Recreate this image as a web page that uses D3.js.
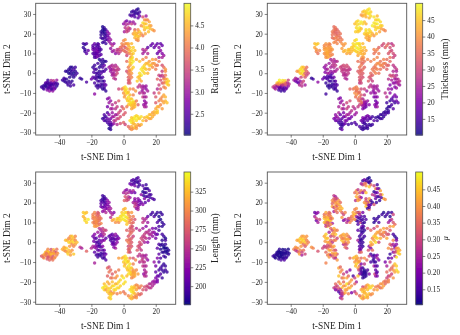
<!DOCTYPE html>
<html><head><meta charset="utf-8">
<script src="https://cdn.jsdelivr.net/npm/d3@7"></script>
<style>html,body{margin:0;padding:0;background:#fff}svg{display:block}text{font-family:"Liberation Serif","Times New Roman",serif;fill:#222}</style>
</head><body><svg id="c" width="460" height="335"></svg>
<script>
// each row: t-SNE 1, t-SNE 2, radius, thickness, length, mu
const farLeft=[[-51,-7,2.3,28,270,.14],[-50,-6.5,2.2,30,300,.13],[-49.5,-8,2.4,26,310,.12],[-49,-6,2.3,33,320,.13],[-48.5,-5,2.5,45,325,.12],[-48,-7,2.2,24,290,.11],[-47.5,-4.5,2.6,48,315,.12],[-47.5,-8.5,2.8,15,275,.13],[-47,-6,2.3,32,295,.11],[-47,-3.5,2.3,49,300,.13],[-46.5,-7.5,2.5,18,285,.11],[-46,-9,2.9,13,280,.15],[-46,-5,2.2,47,310,.11],[-45.5,-6.5,2.7,25,320,.12],[-45,-8,2.4,14,300,.12],[-45,-3.7,3.2,48,270,.11],[-44.5,-5.5,2.3,40,290,.12],[-44,-7,2.6,16,265,.12],[-44,-9,2.9,14,290,.16],[-43.5,-3.8,3.3,46,320,.12],[-43,-6,2.5,28,300,.11],[-43,-4.8,2.9,38,285,.13],[-42.5,-7.5,2.4,20,310,.13],[-42,-5,2.3,26,275,.12],[-41.5,-6.5,2.2,22,295,.13],[-41.5,-3.5,3.0,30,290,.11],[-41,-5.5,2.3,27,305,.12],[-50,-7.5,2.3,24,285,.12],[-48.5,-6.5,2.2,22,300,.12],[-47,-5,2.4,44,330,.11],[-46,-6,2.3,30,305,.11],[-45,-5,2.6,42,300,.12],[-44.5,-8,2.3,15,280,.13],[-43.5,-5.5,2.4,33,315,.12],[-46,-7,2.5,18,295,.11],[-45,-6,2.3,27,325,.12],[-48,-5.5,2.3,38,290,.12],[-43,-8,2.7,17,300,.14],[-47,-7.5,2.4,16,270,.12]];
const midLeft=[[-38,-3.5,2.3,24,320,.38],[-37,-4,2.2,20,310,.3],[-36.5,-3,2.4,22,325,.35],[-36,-4.5,2.2,18,300,.27],[-35.5,-3,2.2,21,330,.4],[-35,-5,2.3,17,320,.36],[-34.5,-6,2.3,26,335,.42],[-33.5,-2,2.2,30,310,.4],[-35,1,2.1,44,315,.45],[-34,2,2.2,47,300,.46],[-33,0,2.2,49,325,.44],[-33,3,2.1,46,310,.4],[-32,1,2.3,48,335,.47],[-32,-1,2.2,42,300,.35],[-31,2,2.4,36,320,.42],[-31,0,2.1,33,335,.45],[-30,-1,2.3,30,310,.4],[-30,1,2.2,34,300,.38],[-32,-4,2.2,30,305,.36],[-31,-6,2.4,24,330,.3],[-33,-6.5,2.3,27,310,.25],[-27,-2.5,2.3,12,255,.4],[-26,-3,2.2,14,240,.38],[-23,-4.5,2.4,22,280,.32],[-37,-2.5,2.3,26,315,.4],[-34,-4,2.2,22,325,.38],[-33,-5,2.3,28,315,.3],[-36,1,2.2,40,325,.42],[-34,0,2.1,45,335,.43],[-33,1.5,2.2,48,315,.46],[-30,3,2.3,35,300,.4],[-29,0,2.3,30,325,.37],[-31,-2,2.2,32,300,.33],[-32,3,2.2,44,330,.42]];
const lowerMid=[[-19,3,2.2,22,215,.42],[-18,4,2.3,24,225,.46],[-17,2,2.3,26,200,.44],[-18.5,.5,2.4,21,215,.4],[-16,0,2.3,24,190,.4],[-15,1,2.2,23,205,.35],[-14,0,2.5,20,220,.28],[-16,-2,2.4,14,195,.3],[-15,-2,2.1,16,205,.35],[-17,-3,2.3,15,225,.36],[-14,-2.5,2.2,14,195,.38],[-15,-4,2.3,13,220,.42],[-19,-2,2.5,16,245,.28],[-20,-3,2.6,18,245,.3],[-18,-5,2.4,13,205,.35],[-17,-6.5,2.3,12,195,.37],[-16,-6,2.2,13,200,.4],[-15,-6.5,2.3,14,185,.25],[-14,-5.5,2.4,12,190,.42],[-13,-6,2.2,15,195,.38],[-12,-7,2.4,14,205,.4],[-11,-6,2.6,16,215,.33],[-12,-8,2.3,15,190,.25],[-11,-9,2.2,13,200,.4],[-18,-10.5,2.9,14,240,.38],[-12,-4,2.5,17,215,.3],[-13,-2,2.4,18,225,.42],[-15,7,2.1,25,250,.35],[-14,6,2.2,26,240,.3],[-13,7,2.3,27,255,.43],[-12,6,2.1,24,265,.4],[-16,5,2.3,24,235,.25],[-14,4,2.2,27,215,.42],[-13,3,2.4,26,225,.34],[-12,4,2.6,28,250,.45],[-12,1,2.5,25,235,.4],[-11,2,2.4,26,205,.3],[-11,6,2.2,27,260,.38],[-18,2,2.4,23,210,.45],[-17,0,2.3,24,200,.42],[-15,-1,2.2,15,190,.38],[-17,-1.5,2.3,15,215,.32],[-13,-4,2.2,14,200,.35],[-14,-7,2.3,13,190,.33],[-16,-4,2.3,14,205,.42],[-18,-2.5,2.4,16,230,.3],[-13,1,2.3,24,215,.36],[-15,3,2.2,25,225,.3],[-13,5,2.2,27,245,.4],[-16,-7.5,2.3,12,195,.4],[-13,-8,2.2,13,195,.3],[-12,-5.5,2.5,15,200,.42]];
const upperMid=[[-25,15,2.3,44,330,.18],[-24,14.5,2.2,46,335,.2],[-23,15,2.4,45,325,.22],[-25,13,2.2,42,320,.25],[-24,11,2.3,38,340,.18],[-23,10,2.5,36,335,.25],[-24,12,2.2,40,325,.3],[-22,11.5,2.6,38,345,.3],[-19,14,2.5,38,295,.35],[-18,15,2.6,40,300,.42],[-17,14,2.4,39,290,.38],[-16,15,2.3,40,270,.35],[-19,12,2.7,41,290,.46],[-18,12.5,2.5,42,305,.42],[-17,11,2.8,43,310,.48],[-16,12,2.7,41,285,.45],[-15,13,2.5,42,295,.4],[-19,10,2.4,39,300,.44],[-18,9,2.5,40,305,.28],[-17,9.5,2.6,43,290,.38],[-16,10,2.6,38,285,.32],[-15,11,2.3,39,280,.42],[-14,9.5,2.5,38,300,.25],[-17,8,2.6,41,295,.45],[-16,8.5,2.7,42,310,.3],[-14,12,2.4,40,290,.4],[-15.5,14.5,2.5,37,275,.35],[-18,11,2.6,42,300,.44],[-19,13,2.5,40,300,.4],[-17,12.5,2.6,41,295,.43],[-16,13.5,2.4,40,280,.37],[-16,11,2.7,41,295,.46],[-18,10,2.5,41,290,.4],[-17,10,2.5,42,305,.33],[-15,9,2.5,39,285,.4],[-15,12,2.4,40,290,.35],[-18,8,2.4,40,310,.3]];
const upperArm=[[-13,23.5,2.1,35,195,.28],[-12,23,2.2,36,190,.25],[-11,22,2.3,34,200,.3],[-14,21,2.2,37,195,.4],[-13,20.5,2.2,35,200,.38],[-12,21,2.1,34,190,.35],[-11,20,2.2,33,205,.42],[-10,21,2.7,35,225,.4],[-9,20,2.9,36,230,.35],[-14,18,2.3,35,210,.42],[-13,17.5,2.2,36,215,.3],[-12,18,2.3,38,205,.4],[-11,18.5,2.3,37,215,.33],[-10,17,2.7,38,235,.45],[-9,18,2.8,35,225,.42],[-8,17,3,37,240,.44],[-13,15.5,2.2,39,230,.25],[-11,15,2.3,38,245,.35],[-8,15,3,40,235,.33],[-7,14,3.3,40,245,.3],[-6,15,2.9,41,225,.38],[-8,12.5,2.9,41,250,.4],[-12,22,2.2,35,195,.3],[-13,22,2.1,36,190,.33],[-12,19.5,2.2,35,200,.4],[-11,17,2.4,37,220,.38],[-12,16,2.3,38,235,.36],[-10,19,2.6,36,220,.42],[-9,16,2.9,38,235,.4],[-14,19.5,2.2,36,205,.35]];
const centerLobe=[[-9,3,3,30,200,.42],[-8,3.5,3.1,29,210,.4],[-8,1,3,28,195,.45],[-7,4,3.2,31,205,.43],[-7,2,3.2,27,190,.38],[-6,0,3.1,27,200,.35],[-6,3,3.3,30,215,.42],[-5,1.5,3.3,28,210,.44],[-5,-1,3.4,27,230,.33],[-4,3,3.4,30,205,.36],[-4,0,3.5,28,225,.4],[-3,2,3.3,27,220,.3],[-7,-1,3,26,215,.25],[-5,-3,3.2,25,240,.3],[-6,-2.5,3.3,26,225,.35],[-5,4,3.2,31,230,.4],[-7,0,3.1,27,205,.42],[-6,1.5,3.2,28,200,.4],[-8,2,3,29,210,.38],[-4,1.5,3.4,28,215,.42],[-6,-1,3.2,26,210,.32]];
const topCrown=[[5,31,2.2,44,195,.13],[6,31.5,2.3,46,205,.2],[7,30,2.2,45,195,.38],[8,32,2.3,47,190,.12],[9,32.5,2.1,48,200,.11],[8.5,30.5,2.2,49,185,.16],[10,31,2.3,46,205,.13],[7,28.5,2.4,43,215,.4],[9,28,2.5,44,195,.46],[5,29,2.6,42,215,.3],[4,29.5,2.3,40,210,.25],[10,29,2.7,47,190,.35],[12,28.5,3.6,48,200,.3],[14,29,3,44,190,.14],[13,27,4.3,46,195,.4],[15,27,4.1,49,185,.15],[12,25.5,4.8,48,180,.13],[14,25,4.6,49,190,.2],[16,26,4.4,47,200,.42],[12.5,23.5,4.7,45,185,.25],[15,23,4.9,48,205,.14],[17,24,4.3,46,195,.45],[13,22,4.5,47,220,.18],[15.5,21,4.6,42,210,.13],[18,22,4.4,39,205,.42],[19,21.5,4.2,38,195,.4],[16.5,22.5,4.5,41,190,.15],[11,24,4.2,49,225,.28],[0,25,2.9,44,240,.35],[1,26,3,46,235,.4],[2,26.5,2.7,47,225,.28],[3,25,3.2,48,245,.3],[4,26,2.8,49,230,.38],[5,25,3.4,47,220,.22],[6,26,3,45,240,.32],[7,25,3.1,43,210,.45],[1,23,3.3,47,270,.43],[2,22,3.4,48,265,.4],[3,23,3.6,49,255,.35],[.5,21,3.1,46,280,.27],[2,21,3.5,45,270,.42],[4,22.5,3.2,44,235,.22],[7,22,3.7,48,230,.3],[6,20,4.3,46,240,.4],[7,21,4.5,47,225,.33],[8,19,4.6,44,250,.18],[9,20.5,4.4,48,220,.45],[10,21,4.7,46,215,.15],[7,18,4.5,42,260,.45],[8,17,4.2,43,230,.14],[9,18.5,4.7,41,235,.2],[10,19,4.5,45,215,.17],[11,20,4.3,43,210,.13],[9,16.5,4.1,40,240,.35],[12,19,4,40,225,.32],[7,31,2.2,46,195,.15],[9,30,2.3,48,195,.13],[6,29.5,2.4,44,200,.35],[13,25,4.6,48,190,.17],[14,27,4.2,47,190,.22],[14,23,4.7,46,195,.15],[16,24,4.5,46,195,.3],[13.5,20,4.4,44,205,.14],[9,22,4.2,47,225,.4],[8,20,4.5,45,235,.3],[9,17.5,4.4,41,235,.15],[7,19.5,4.6,44,250,.4],[1.5,24.5,3.2,47,250,.4],[3,21.5,3.4,46,260,.38]];
const centerTop=[[-7,11,3,43,310,.2],[-6,11.5,3.1,44,320,.25],[-5,10,2.9,42,305,.28],[-4,11,3.3,45,325,.22],[-4,12,3.4,44,335,.3],[-3,10,3.2,41,300,.38],[-2,13,3.9,46,340,.36],[-1,15,4.1,47,330,.42],[-1,12,3.7,45,345,.4],[0,14,4,48,345,.45],[0,16.5,4.1,46,320,.37],[1,17,4.3,48,325,.4],[1,11,3.8,47,340,.14],[1,13,3.6,49,348,.25],[2,15,4.2,49,340,.18],[2,9,3.5,42,330,.16],[3,12,4.2,48,320,.13],[3,15,4.4,47,295,.35],[3.5,10,4,44,305,.3],[4,13,4.6,46,300,.16],[4.5,8,4.1,40,290,.2],[5,11.5,4.8,43,285,.14],[5,15,4.5,44,310,.2],[6,13,4.7,45,295,.15],[6,10,4.7,42,280,.13],[12,12,3.2,38,250,.13],[13,11,3.1,37,245,.15],[14,12,3.3,38,240,.14],[12,10,3.1,36,255,.12],[15,10,3.2,37,235,.15],[-2,11,3.6,44,335,.38],[-1,13.5,3.9,46,340,.42],[0,11.5,3.9,46,345,.4],[1,15,4.2,48,335,.38],[2,12.5,4.1,49,340,.16],[2,10.5,3.9,45,335,.15],[3,14,4.4,47,310,.25],[4,11,4.5,44,300,.15],[5,9.5,4.5,43,285,.14],[-3,12,3.4,44,330,.35],[7,11.5,4.6,42,270,.16]];
const rightTop=[[17,14,2.5,30,190,.14],[18,15,2.6,31,195,.12],[19,13,2.5,33,200,.13],[20,14,2.7,35,185,.15],[21,15,2.5,32,190,.13],[22,13,2.8,31,180,.12],[23,15,2.5,27,185,.14],[24,14,2.6,30,190,.3],[22,11,2.8,33,195,.2],[23,11.5,2.9,30,180,.28],[24,10,2.8,31,185,.32],[25,9,3,29,190,.35],[21,10,2.6,32,200,.25],[22,8,3,36,195,.4],[24,8,3.1,30,185,.42],[15,13,2.5,34,210,.13]];
const rightMid=[[8,7,4.4,38,245,.3],[10,6,4.6,37,250,.35],[12,7,4.2,39,235,.3],[14,8,4,38,225,.35],[16,6,4.3,36,240,.4],[18,7,4.4,38,220,.42],[20,7,4.1,35,205,.38],[13,4,4.7,38,260,.42],[15,5,4.5,40,255,.4],[17,4,4.6,39,245,.35],[19,5,4.3,37,225,.33],[21,4,3.9,33,205,.3],[22,6,4,34,195,.32],[11,2,4.9,37,265,.38],[12,3,4.8,36,255,.45],[14,2,4.6,38,250,.47],[16,2,4.4,36,235,.42],[18,3,4.2,35,230,.36],[20,2,4,33,215,.42],[10,0,4.8,35,270,.45],[11,-1,4.9,33,265,.42],[13,0,4.7,38,240,.48],[15,0,4.5,36,225,.3],[9,-2,4.6,32,270,.22],[10,-3,4.5,30,260,.2],[8.5,-4,4.7,33,275,.32],[11,-4,4.4,29,255,.35],[14,5,4.5,39,250,.42],[16,4,4.6,38,245,.38],[18,5,4.3,37,235,.4],[12,1,4.8,37,260,.42],[13,2.5,4.7,37,255,.45],[20,4,4.1,34,215,.33],[10,-1.5,4.6,33,265,.4]];
const centerStem=[[2,6,3.9,36,280,.17],[4,7,4.7,38,270,.14],[5,5,4.9,34,285,.13],[5.5,8,4.8,40,265,.15],[6,6,4.9,36,275,.13],[3,3,4,36,270,.14],[4,4,4.4,37,285,.16],[6,3,4.7,34,260,.14],[2,1,3.6,33,290,.25],[3,0,3.9,34,295,.15],[4,1,4.3,35,280,.13],[5,0,4.3,33,275,.14],[3,-2,3.8,32,265,.16],[4,-3,3.9,33,285,.18],[5,-2,4.1,31,270,.13],[3.5,-4,3.7,32,280,.2],[3,-5,3.6,28,290,.28],[4,-5,3.8,30,265,.35],[5,7,4.8,37,275,.14],[4,5.5,4.6,36,280,.13],[5,2,4.6,35,270,.14],[3.5,1.5,4.1,34,285,.13],[4,-1,4,33,280,.14],[3,-3.5,3.7,31,275,.18]];
const rightEdge=[[24,4,3.6,28,195,.15],[25,3,3.9,27,190,.13],[26,2,4.3,29,180,.14],[24,1,3.4,26,185,.38],[26,1,4.2,25,195,.2],[22,-1,3.5,30,200,.35],[23,-1.5,3.2,32,185,.3],[25,-2,3.5,29,180,.18],[26,-1,4,26,190,.22],[21,-3,3.8,27,205,.4],[23,-3.5,3.6,25,182,.33],[25,-3,4,24,178,.25],[27,-3,4.6,26,180,.4],[28,-4,4.7,27,185,.42],[26,-4.5,4.4,23,182,.3],[27,-5.5,4.8,25,180,.47],[28,-6,4.6,24,190,.45],[24,-5,3.6,22,185,.2],[25,-7,4,21,195,.25],[26,-7.5,4.2,23,188,.48],[22,-6,3.5,20,205,.13],[21,-8,3.2,24,220,.15],[19,-10,3.4,27,230,.2],[20,-12,3.7,26,215,.25],[22,-10,3.9,22,200,.3],[24,-12,4.2,18,190,.38],[25,-11,4.4,20,188,.45],[26,-14,4.5,19,195,.48],[27,-15,4.6,17,190,.46],[25,-15,4.4,14,185,.42],[22,-14,4,13,195,.35],[20,-15,3.7,14,205,.35],[23,-16,4.1,15,200,.3],[21,-17,4.5,12,210,.28],[24,-18,4.3,16,190,.4],[24,-1,3.4,29,185,.25],[26,-3,4.3,25,180,.4],[27,-4.5,4.7,26,182,.46],[25,-5,4,23,185,.3],[23,-8,3.7,21,195,.2],[24,-14,4.3,16,190,.4],[23,-13,4.1,15,195,.35],[22,-17,4.4,13,205,.33],[26,-12,4.5,19,190,.46]];
const innerRight=[[9,-7,3.3,28,250,.3],[10,-6,3.4,27,255,.15],[11,-7,3.2,26,240,.18],[12,-6.5,3.1,24,250,.13],[13,-7,3,25,235,.2],[14,-8,2.9,23,245,.25],[15,-9,3.1,24,230,.2],[10,-10,3.3,23,250,.15],[11.5,-9,3,22,260,.13],[13,-10,3.1,24,250,.14],[14,-12,3.2,22,245,.16],[12,-12,3.4,20,255,.25],[13,-14,2.9,18,240,.18],[14,-15,3,21,250,.15],[13,-17,3.2,20,255,.22],[14,-17,3.1,24,245,.2],[12.5,-16,3,22,230,.3],[12,-8,3.1,24,250,.15],[13,-12,3.1,21,245,.17],[12,-10,3.2,22,250,.14],[13.5,-15.5,3,20,245,.18],[14,-6.5,3,25,240,.2]];
const lowerRight=[[14,-24,4.1,14,260,.42],[13,-22.5,4.5,13,270,.38],[14.5,-22,4.7,12,265,.36],[16,-21,4.6,13,250,.4],[16,-23,4.4,14,255,.33],[18,-22,4.5,12,245,.42],[18,-20,4.3,13,235,.38],[19,-21,4.4,15,240,.35],[20,-20,4.6,14,225,.36],[21,-19,4.7,13,215,.38],[20,-18,4.4,12,220,.3],[15,-22.5,4.6,13,260,.38],[17,-21,4.5,13,245,.4],[19,-19.5,4.5,13,235,.36],[17,-23,4.4,14,250,.4],[21,-20,4.6,14,220,.38]];
const bottomRing=[[4,-28,4,14,325,.45],[5,-27,4.4,13,330,.42],[6,-28,4.2,12,310,.4],[7,-27.5,4.6,14,300,.47],[8,-27,4.3,15,295,.44],[9,-26,4.4,13,300,.45],[10,-26.5,4.1,12,285,.38],[11,-26,4.5,14,280,.4],[4,-24,4.8,18,340,.42],[5,-25,4.9,16,345,.45],[6,-23,4.8,17,330,.4],[7,-22,4.9,18,320,.38],[5,-22.5,4.6,20,335,.3],[8,-21.5,4.7,20,300,.42],[9,-23,4.9,17,310,.46],[10,-23,4.7,15,290,.48],[12,-24,4.6,16,275,.4],[11,-22,4.8,14,295,.45],[6,-25.5,4.5,13,340,.43],[3,-27,3.9,15,300,.35],[5,-23.5,4.8,18,335,.42],[6,-24.5,4.7,15,335,.44],[7,-23,4.9,18,325,.4],[8,-24,4.8,16,310,.45],[7,-26,4.5,13,320,.44],[9,-22,4.8,18,305,.46],[8,-28,4.3,13,305,.42],[5,-28.5,4.2,13,320,.4]];
const centerLow=[[-3,-8,3.5,34,310,.35],[-1,-8,3.9,36,320,.42],[0,-7.5,4.4,38,325,.45],[0,-10,4.2,39,330,.4],[1,-7,4.8,37,340,.43],[2,-8,4.9,38,335,.4],[1,-9,4.7,34,345,.38],[2.5,-10,4.8,36,340,.44],[1,-11,4.4,40,320,.47],[3,-12,4.9,38,345,.35],[2,-13,4.6,35,330,.42],[4,-11,4.5,33,340,.2],[3.5,-14,4.7,38,335,.13],[4,-8,4.2,30,290,.35],[5,-13,4.6,25,330,.13],[5,-15,4.8,33,310,.14],[6,-14,4.9,26,305,.12],[7,-15,4.4,20,315,.13],[4.5,-16,4.7,28,340,.15],[6,-16,4.5,22,310,.12],[7,-17,4.6,18,320,.13],[5,-18,4.4,20,300,.13],[8,-14,4,23,300,.15],[9,-16,3.8,21,310,.2],[6,-11,4.1,28,295,.28],[7.5,-9,4.3,24,300,.35],[6,-8,4.1,30,270,.4],[1,-8.5,4.7,37,340,.42],[.5,-12,4.3,36,330,.44],[2,-10,4.8,38,342,.42],[3,-9.5,4.6,35,330,.4],[2.5,-14,4.7,34,330,.3],[4,-13,4.7,30,335,.18],[5,-16.5,4.6,24,320,.13],[6,-15,4.7,23,310,.12],[7,-16,4.5,20,315,.13],[4,-15,4.8,34,335,.16],[3,-16,4.6,30,340,.2],[6,-17.5,4.4,19,305,.13]];
const bottomLeft=[[-10,-13,2.8,22,285,.42],[-9,-12.5,2.9,20,270,.35],[-9,-15,3,23,290,.4],[-10,-17,2.7,25,280,.45],[-8,-18,3.1,28,285,.35],[-7,-16,3.2,26,275,.3],[-5,-15,3.4,30,290,.25],[-5,-18,3.3,29,300,.42],[-3,-14,3.7,31,295,.2],[-1,-17,3.6,28,330,.15],[-2,-19,3.5,27,335,.4],[0,-18,3.9,26,345,.3],[1,-20,3.7,24,340,.25],[2,-17,4,28,325,.45],[-12,-21,2.4,22,325,.35],[-11,-22,2.3,24,340,.3],[-13,-23,2.2,20,345,.28],[-12,-24,2.5,18,335,.2],[-11,-24,2.3,19,310,.25],[-10,-20,2.4,25,320,.38],[-10,-23,2.6,21,330,.33],[-9,-21,2.8,17,315,.42],[-8,-23,2.7,16,330,.45],[-6,-22,3.2,22,345,.42],[-5,-24,3.5,19,340,.4],[-4,-21,3.3,24,335,.35],[-3,-23,3.6,18,330,.45],[-5,-21,3,25,320,.48],[-7,-20,3,20,325,.35],[-9,-26,2.2,14,320,.2],[-9,-28,2.1,15,325,.25],[-8,-27,2.3,13,340,.22],[-8,-28.5,2.2,17,335,.3],[-7,-26,2.5,16,315,.35],[-8,-25,2.6,15,300,.3],[-6,-25.5,3,18,310,.42],[-4,-26,3.2,14,295,.38],[-2,-25.5,3.6,14,305,.2],[0,-25,3.8,16,290,.28],[1,-26,3.5,15,295,.35],[-10,-25,2.4,14,330,.15],[-8,-14,3,23,285,.38],[-7,-18,3.1,24,295,.4],[-4,-17,3.4,28,310,.35],[-3,-20,3.5,25,335,.42],[-2,-22,3.6,20,335,.4],[-12,-22.5,2.3,21,340,.3],[-7,-22,3,19,335,.4],[-6,-24,3.2,20,335,.42],[-4,-23,3.4,19,340,.42],[-8,-26,2.4,14,330,.28],[-9,-24,2.5,15,335,.25],[0,-21,3.7,23,340,.35]];
const points=[].concat(farLeft,midLeft,lowerMid,upperMid,upperArm,centerLobe,topCrown,centerTop,rightTop,rightMid,centerStem,rightEdge,innerRight,lowerRight,bottomRing,centerLow,bottomLeft);

const xTicks=[-40,-20,0,20];
const yTicks=[-30,-20,-10,0,10,20,30];
const panelTitles=["Radius (mm)","Thickness (mm)","Length (mm)","\u03bc"];
const colorDomains=[[2.02,5.0],[10.1,50.1],[176,351],[.105,.502]];
const colorTicks=[[2.5,3,3.5,4,4.5],[15,20,25,30,35,40,45],[200,225,250,275,300,325],[.15,.2,.25,.3,.35,.4,.45]];
const colorFormats=[".1f","d","d",".2f"];
const xDomain=[-54.6,32.4];
const yDomain=[-31.3,35.4];
const panelBoxes=[{l:35.7,r:175.7,t:3.3,b:135,cl:184,cr:190.7},{l:267.3,r:406.7,t:3.3,b:135,cl:415.7,cr:422.7},{l:35.7,r:175.7,t:172,b:304.3,cl:184,cr:190.7},{l:267.3,r:406.7,t:172,b:304.3,cl:415.7,cr:422.7}];

const svg=d3.select("#c");
svg.append("defs").append("filter").attr("id","soft").attr("x",0).attr("y",0).attr("width","100%").attr("height","100%")
  .append("feGaussianBlur").attr("stdDeviation",.3);
const root=svg.append("g").attr("filter","url(#soft)");
root.append("rect").attr("width",460).attr("height",335).attr("fill","#fff");
const ink="#555";
panelBoxes.forEach((b,i)=>{
  const g=root.append("g");
  const x=d3.scaleLinear().domain(xDomain).range([b.l,b.r]);
  const y=d3.scaleLinear().domain(yDomain).range([b.b,b.t]);
  const c=d3.scaleLinear().domain(colorDomains[i]).range([0,1]);
  g.selectAll("circle").data(points).join("circle")
    .attr("cx",d=>x(d[0])).attr("cy",d=>y(d[1])).attr("r",1.7)
    .attr("fill",d=>d3.interpolatePlasma(c(d[i+2]))).attr("fill-opacity",.8);
  g.append("rect").attr("x",b.l).attr("y",b.t).attr("width",b.r-b.l).attr("height",b.b-b.t)
    .attr("fill","none").attr("stroke",ink).attr("stroke-width",.9);
  const ax=d3.axisBottom(x).tickValues(xTicks).tickSize(2.6).tickPadding(2).tickFormat(d=>String(d).replace("-","\u2212"));
  const ay=d3.axisLeft(y).tickValues(yTicks).tickSize(2.6).tickPadding(2).tickFormat(d=>String(d).replace("-","\u2212"));
  [g.append("g").attr("transform",`translate(0,${b.b})`).call(ax),g.append("g").attr("transform",`translate(${b.l},0)`).call(ay)]
    .forEach(s=>{s.select(".domain").remove();s.selectAll("line").attr("stroke","#333").attr("stroke-width",.6);s.selectAll("text").style("font-size","7.3px");});
  g.append("text").attr("x",(b.l+b.r)/2).attr("y",b.b+25).attr("text-anchor","middle").style("font-size","9.4px").text("t-SNE Dim 1");
  g.append("text").attr("transform",`translate(${b.l-26},${(b.t+b.b)/2}) rotate(-90)`).attr("text-anchor","middle").style("font-size","9.4px").text("t-SNE Dim 2");
  const cy=d3.scaleLinear().domain(colorDomains[i]).range([b.b,b.t]);
  const rows=d3.range(Math.ceil(b.b-b.t));
  g.append("g").selectAll("rect").data(rows).join("rect")
    .attr("x",b.cl).attr("width",b.cr-b.cl).attr("y",k=>b.t+k).attr("height",1.2)
    .attr("fill",k=>d3.interpolatePlasma(1-k/(rows.length-1)));
  g.append("rect").attr("x",b.cl).attr("y",b.t).attr("width",b.cr-b.cl).attr("height",b.b-b.t)
    .attr("fill","none").attr("stroke",ink).attr("stroke-width",.8);
  const ac=d3.axisRight(cy).tickValues(colorTicks[i]).tickSize(2.6).tickPadding(2).tickFormat(d3.format(colorFormats[i]));
  const s=g.append("g").attr("transform",`translate(${b.cr},0)`).call(ac);
  s.select(".domain").remove();s.selectAll("line").attr("stroke","#333").attr("stroke-width",.6);s.selectAll("text").style("font-size","7.3px");
  g.append("text").attr("transform",`translate(${b.cr+(i%2?23.5:25.5)},${(b.t+b.b)/2}) rotate(-90)`).attr("text-anchor","middle").attr("dominant-baseline","middle")
    .style("font-size",i===3?"8px":"9.4px").style("font-style",i===3?"italic":"normal").text(panelTitles[i]);
});
</script></body></html>
